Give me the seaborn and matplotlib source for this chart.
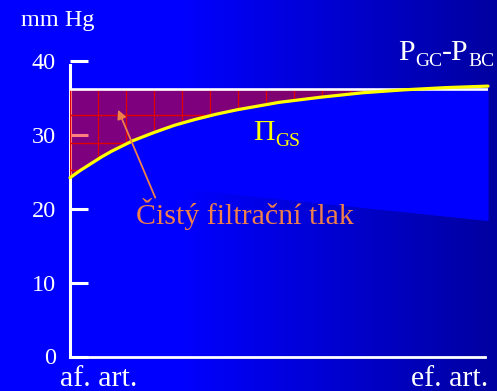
import numpy as np
import pandas as pd
import matplotlib
matplotlib.use("Agg")
import matplotlib.pyplot as plt
import seaborn as sns

# Position along the glomerular capillary (% of length, afferent -> efferent)
position = [0, 2.5, 5, 7.5, 10, 15, 20, 25, 30, 35, 40, 50, 60, 70, 80, 90, 100]
# Oncotic pressure in the glomerular capillary (mm Hg)
oncotic = [24.2, 25.2, 26.1, 27.0, 27.8, 29.2, 30.3, 31.3, 32.1, 32.8, 33.4,
           34.4, 35.1, 35.7, 36.1, 36.4, 36.6]
# Hydrostatic pressure difference P_GC - P_BC (mm Hg)
hydrostatic = [36.2] * len(position)
# Lower edge of the light wedge under the oncotic curve
wedge_x = [0, 100]
wedge_y = [24.3, 18.4]
y_ticks = [0, 10, 20, 30, 40]
y_labels = ["0", "10", "20", "30", "40"]

df = pd.DataFrame({"position": position, "oncotic": oncotic, "hydrostatic": hydrostatic})

sns.set_style("white")
plt.rcParams["font.family"] = ["Liberation Serif", "DejaVu Serif"]

W, H = 497, 391
fig = plt.figure(figsize=(W / 100, H / 100), dpi=100)

# slide background: horizontal blue gradient
bg = fig.add_axes([0, 0, 1, 1])
bg.axis("off")
cols = np.arange(W)
blue = np.where(cols < 180, 255, 255 - 95 * (cols - 180) / (W - 180)) / 255.0
img = np.zeros((1, W, 3))
img[0, :, 2] = blue
bg.imshow(img, aspect="auto", extent=[0, 1, 0, 1], interpolation="bilinear")
bg.set_xlim(0, 1)
bg.set_ylim(0, 1)

ax = fig.add_axes([70 / W, 34.5 / H, 418 / W, 295.5 / H])
ax.set_facecolor("none")
ax.set_xlim(0, 100)
ax.set_ylim(0, 40)

# light wedge below the oncotic curve
lower = np.interp(df["position"], wedge_x, wedge_y)
ax.fill_between(df["position"], lower, df["oncotic"], color="#0000FF", lw=0, zorder=1, clip_on=False)

# net filtration pressure area with a red grid texture
ax.fill_between(df["position"], df["oncotic"], df["hydrostatic"],
                where=df["oncotic"] <= df["hydrostatic"], interpolate=True,
                facecolor=(1, 0, 0, 0.5), edgecolor="#E00000", lw=0.8, zorder=3)
top = hydrostatic[0]
grid_red = "#E00000"
for gx in np.arange(6.7, 100, 6.7):
    cv = np.interp(gx, position, oncotic)
    if cv < top:
        ax.plot([gx, gx], [cv, top], color=grid_red, lw=0.9, zorder=3.5)
for gy in np.arange(25.2, top, 3.75):
    xe = np.interp(gy, oncotic, position)
    ax.plot([0, xe], [gy, gy], color=grid_red, lw=1.0, zorder=3.5)

sns.lineplot(data=df, x="position", y="hydrostatic", ax=ax, color="white", lw=1.9, zorder=4)
sns.lineplot(data=df, x="position", y="oncotic", ax=ax, color="#FFFF00", lw=2.3, zorder=5, clip_on=False)

for s in ("top", "right"):
    ax.spines[s].set_visible(False)
ax.spines["left"].set_color("white")
ax.spines["left"].set_linewidth(2.2)
ax.spines["left"].set_bounds(0, 39.4)
ax.spines["bottom"].set_color("white")
ax.spines["bottom"].set_linewidth(2.0)
ax.spines["bottom"].set_bounds(0, 99.3)

ax.set_xticks([])
ax.set_yticks(y_ticks, y_labels)
ax.tick_params(axis="y", left=True, direction="in", length=13, width=2.2, color="white",
               labelcolor="white", labelsize=17.5, pad=10)
ax.set_xlabel("")
ax.set_ylabel("")

white = "white"
orange = "#F0804A"
yellow = "#FFFF00"

ax.text(-11.8, 44.7, "mm Hg", color=white, fontsize=17.5, va="baseline", ha="left", clip_on=False)
ax.text(-2.4, -4.0, "af. art.", color=white, fontsize=21.5, va="baseline", ha="left", clip_on=False)
ax.text(100, -4.0, "ef. art.", color=white, fontsize=21.5, va="baseline", ha="right", clip_on=False)

# P_GC - P_BC label
p1 = ax.text(78.5, 40.1, "P", color=white, fontsize=21.5, va="baseline", ha="left", clip_on=False)
s1 = ax.annotate("GC", xy=(1, 0), xycoords=p1, xytext=(0, -3), textcoords="offset points",
                 color=white, fontsize=14, va="bottom", ha="left")
d1 = ax.annotate("-P", xy=(1, 0), xycoords=s1, xytext=(0, 3), textcoords="offset points",
                 color=white, fontsize=21.5, va="bottom", ha="left")
ax.annotate("BC", xy=(1, 0), xycoords=d1, xytext=(0, -3), textcoords="offset points",
            color=white, fontsize=14, va="bottom", ha="left")

# Pi_GS label
pi = ax.text(43.9, 29.3, "\u03a0", color=yellow, fontsize=21.5, va="baseline", ha="left")
ax.annotate("GS", xy=(1, 0), xycoords=pi, xytext=(0, -3), textcoords="offset points",
            color=yellow, fontsize=14, va="bottom", ha="left")

ax.text(15.9, 18.0, "Čistý filtrační tlak", color=orange, fontsize=21.5, va="baseline", ha="left")
ax.annotate("", xy=(11.5, 33.4), xytext=(20.4, 21.5),
            arrowprops=dict(arrowstyle="-|>", color=orange, lw=1.3, mutation_scale=13,
                            shrinkA=0, shrinkB=0), zorder=6)

fig.savefig("out.png", dpi=100)
